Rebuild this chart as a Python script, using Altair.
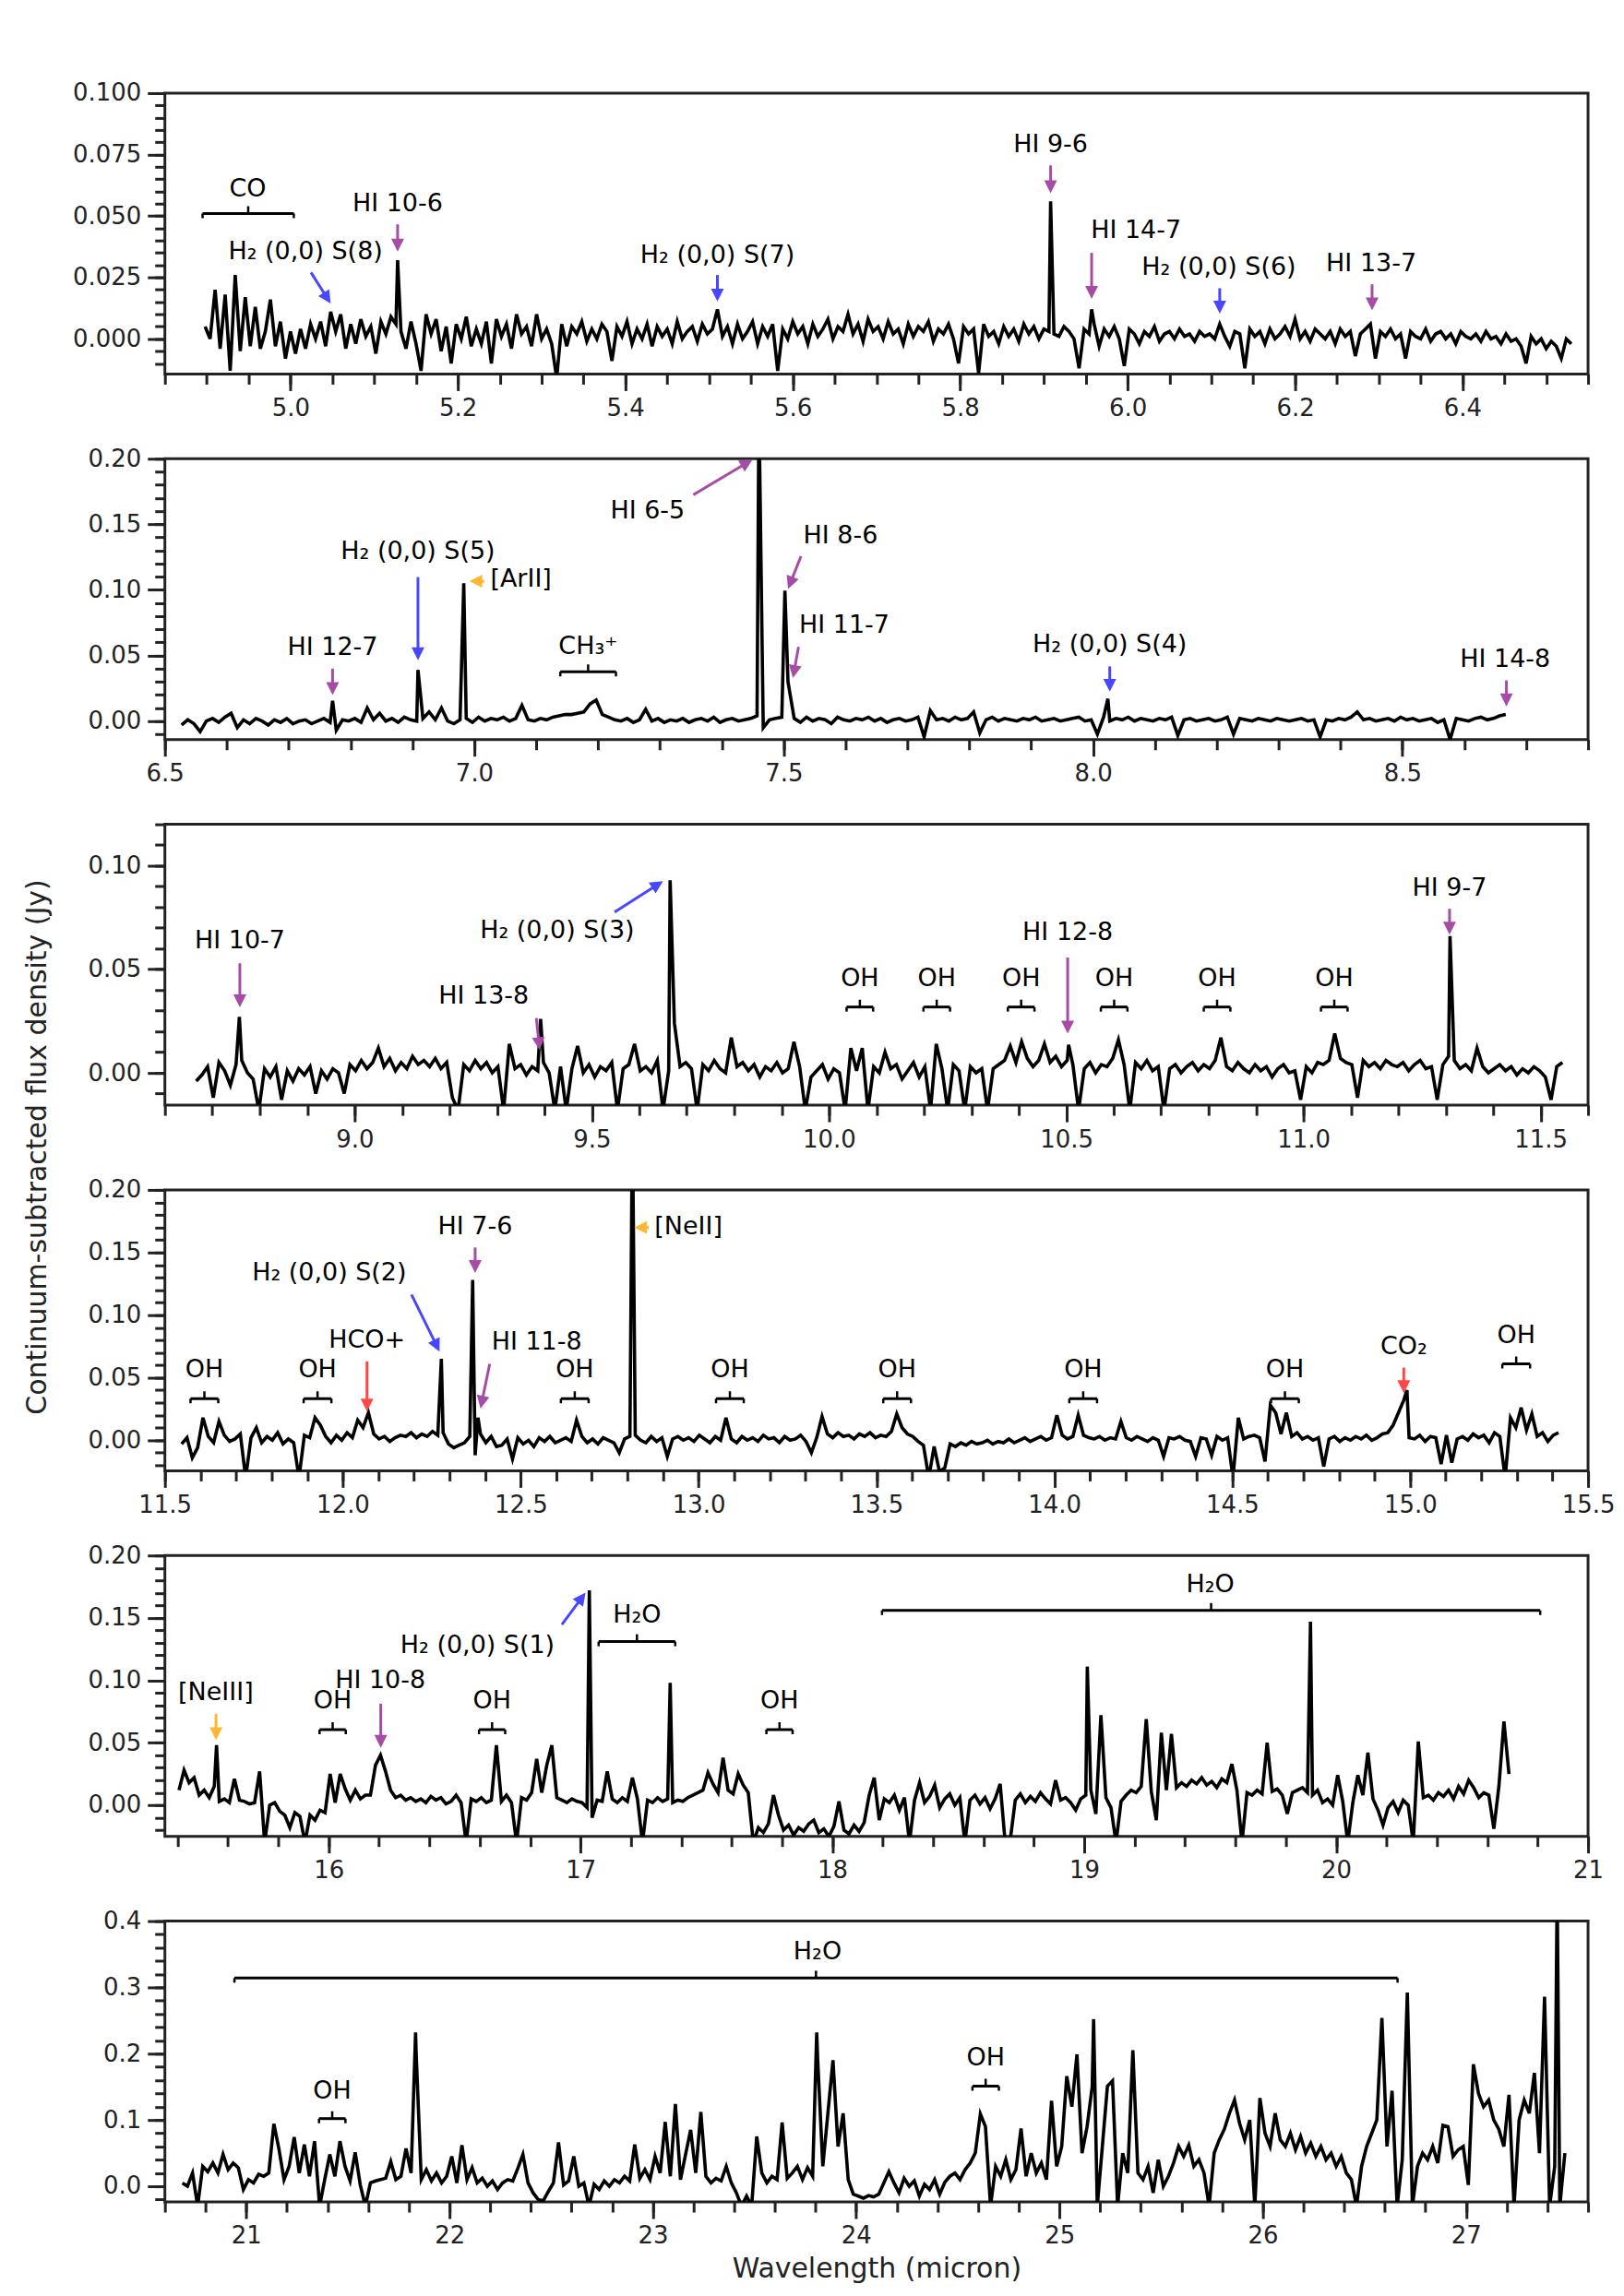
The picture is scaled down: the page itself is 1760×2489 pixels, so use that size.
import math
import pandas as pd
import altair as alt

FONT = "DejaVu Sans"
INK = "#222222"
W, H = 1545, 305
HEAD = 14
ARROW = "M0,0L-0.5,-1L0.5,-1Z"
PURPLE, BLUE, ORANGE, RED = "#a64ca6", "#4747ff", "#ffb733", "#ff4747"

# ---------------- spectra (flux in mJy on a regular wavelength grid) ----------------
P1_START, P1_STEP = 4.898, 0.006
P1_MJY = [
    5, 0, 20, -4, 18, -13, 26, -5, 17, -3, 13, -4, 3, 16, -3, 7, -8, 3, -6, 4,
    -4, 6, 0, 7, -3, 11, 3, 10, -4, 6, -2, 8, 1, 5, -6, 7, 2, 9, 6, 3,
    -4, 7, -2, -13, 10, 2, 8, -5, 5, -10, 6, 0, 9, -3, 4, -2, 7, -10, 8, 1,
    6, -4, 10, 2, 5, -3, 10, 0, 4, -2, -16, 6, -3, 5, 2, 7, -1, 4, 0, 6,
    3, -9, 5, 1, 7, -2, 4, 0, 6, -3, 5, 1, 4, -2, 7, 0, 3, 5, -1, 6,
    2, 4, 12, 1, 5, -2, 6, 0, 3, 7, -2, 5, 1, 6, -13, 4, 0, 7, 2, 5,
    -2, 6, 1, 4, 8, 0, 5, 3, 10, 2, 6, -1, 8, 3, 5, 0, 7, 2, 4, -2,
    6, 1, 5, 3, 7, -1, 4, 2, 6, 0, -10, 5, 2, 4, -14, 6, 1, 3, -2, 5,
    1, 4, -1, 6, 2, 5, 0, 4, 3, 2, 1, 5, 3, 0, -12, 4, 2, 6, -3, 4,
    1, 5, 0, -11, 4, 2, -2, 3, 1, 5, -1, 2, 3, 0, 4, 1, 2, -1, 3, 1,
    2, 0, 6, 1, -3, 3, 2, -12, 4, 1, 3, -2, 4, 0, 2, 5, 1, 8, 0, 3,
    -1, 4, 2, 0, 3, -2, 4, 1, 3, -7, 2, 4, 6, -8, 3, 1, 4, 0, 2, -8,
    3, 1, 0, 4, -1, 2, 3, 0, 2, -2, 3, 1, 0, 2, -1, 3, 0, 1, -2, 2,
    -1, 0, -3, -10, 1, -2, 0, -4, -1, -3, -8, 0, -2,
]
P1_LINES = [(5.128, 32), (5.908, 56), (5.957, 12)]

P2_START, P2_STEP = 6.527, 0.01
P2_MJY = [
    -3, 1, -2, -8, 0, 2, -1, 3, 6, -5, 1, -2, 2, 0, -3, 1, -1, 2, -2, 0,
    1, -2, 0, 2, -1, -7, 1, 0, 2, -1, 10, 1, 6, 0, 2, -1, 3, 1, 0, 2,
    7, 1, 10, 0, -2, 1, 2, -1, 3, 0, 2, 1, 3, 0, 2, 12, 1, 0, 2, 1,
    3, 4, 5, 5, 6, 7, 13, 16, 5, 3, 1, 0, 2, -1, 1, 9, 0, 2, -1, 1,
    0, 2, -1, 1, 2, 0, 3, -1, 1, 2, 0, 1, 2, 4, -5, 1, 2, 3, 30, 2,
    -1, 3, 0, 2, 1, -2, 3, 1, 0, 2, 1, 3, 0, 2, -1, 1, 2, 0, 1, 3,
    -12, 8, 1, 2, 0, 3, 1, 2, 7, -9, 1, 3, 0, 2, 1, 0, 2, 1, 3, 0,
    1, 2, 0, 1, 2, 3, 0, 1, -10, 3, 0, 2, 1, 3, 0, 2, 1, 0, 2, 1,
    3, -11, 1, 2, 0, 1, 2, 0, 1, 3, -10, 2, 1, 0, 2, 1, 0, 2, 1, 0,
    1, 2, 0, 1, -12, 1, 0, 2, 1, 3, 7, 1, 2, 0, 1, 2, 0, 3, 1, 2,
    0, 1, 2, -1, 1, -14, 2, 1, 0, 2, 3, 1, 2, 4, 5,
]
P2_LINES = [(6.771, 15.5), (6.909, 39), (6.983, 105), (7.460, 240), (7.502, 99.5), (8.024, 17)]

P3_START, P3_STEP = 8.666, 0.012
P3_MJY = [
    -4, -1, 3, -12, 5, 1, -6, 4, 6, 0, -3, -18, 2, -2, 3, -13, 1, -4, 2, -1,
    3, -10, 1, -3, 2, 0, -10, 4, 1, 6, 2, 5, 12, 3, 7, 1, 5, 2, 8, 4,
    6, 3, 7, 2, 5, -12, -18, 4, 1, 6, 2, 5, 0, 3, -18, 14, 2, 4, -1, 3,
    1, 5, 0, -18, 3, -18, 2, 13, 0, 4, -2, 3, 1, 5, -18, 2, 4, 14, 1, 3,
    0, 6, -18, 1, 24, 3, 5, 2, -18, 4, 1, 6, 2, 0, 17, 3, 5, 1, 4, -2,
    3, 1, 5, 0, 2, 15, 3, -18, -2, 1, 4, -3, 2, 0, -18, 12, 1, 12, -18, 3,
    0, 10, 2, 4, -3, 1, 5, -2, 3, -18, 14, 2, -18, 4, 1, -18, 3, 0, 2, -18,
    2, 4, 6, 13, 5, 15, 7, 3, 6, 14, 5, 8, 3, 6, 4, -18, 2, 5, 0, 4,
    3, 7, 16, 4, -18, 5, 2, 6, 1, 3, -18, 2, 4, 0, 3, 5, 1, 4, 2, 6,
    17, 3, 1, 5, 2, 0, 4, 1, 3, -2, 2, 4, 0, 1, -13, 3, 0, 5, 4, 6,
    19, 7, 5, 4, -12, 6, 3, 5, 2, 6, 4, 3, 5, 1, 4, 6, 2, 3, -13, 4,
    8, 6, 2, 4, 1, 12, 3, 0, 2, 4, 1, 3, -1, 2, 0, 3, 1, -2, -13, 3,
    5,
]
P3_LINES = [(8.757, 27), (9.392, 26), (9.665, 93), (10.505, 13.5), (11.309, 66)]

P4_START, P4_STEP = 11.547, 0.015
P4_MJY = [
    -3, 2, -14, -6, 18, 3, -2, 15, 4, -1, 1, 5, -30, 2, 10, -2, 3, 0, 6, -3,
    1, -2, -30, 4, 2, 18, 12, 3, -2, 4, 0, 6, 2, 16, 10, 22, 5, 1, 3, -1,
    2, 4, 3, 6, 2, 5, 3, 7, 4, 6, -3, -6, -4, -2, 3, -12, 5, -2, 3, -5,
    -4, 1, -15, 2, -3, 0, -5, 2, -1, 3, -2, 0, 2, -1, 16, 3, -2, 1, -3, 2,
    0, -2, -10, 1, 3, 4, 0, -2, 3, -1, 2, -13, 1, 3, 0, 2, -1, 4, 1, -2,
    3, 0, 18, 1, -2, 3, 0, 2, -1, 4, 1, 2, -2, 3, 0, 1, 4, -1, -10, 2,
    19, 5, 2, 6, 3, 4, 1, 5, 3, 6, 2, 4, 3, 7, 21, 10, 5, 3, -1, -4,
    -30, -5, -25, -22, -3, -5, -2, -4, -1, -3, -2, 0, -3, -1, -2, 1, -2, 0, 2, -1,
    1, 3, 0, 2, 20, 4, 1, 3, 20, 4, 2, 1, 3, 0, 2, 1, 15, 2, 0, 3,
    1, -1, 2, 0, -13, 2, 1, 3, 0, -1, -13, 2, 1, -12, 3, 0, 2, -30, 18, 1,
    3, 4, 2, -17, 28, 22, 5, 22, 3, 6, 1, 3, 0, 2, -21, 1, 3, -1, 2, 0,
    3, 1, 4, 0, 2, 5, 6, 12, 22, 32, 2, 1, 4, -1, 3, 2, -19, 4, -18, 1,
    3, 0, 5, 2, 4, -2, 6, 3, -30, 18, 10, 26, 8, 21, 3, 6, -1, 4, 6,
]
P4_LINES = [(12.277, 65), (12.365, 128), (12.380, 18), (12.814, 260), (14.991, 40)]

P5_START, P5_STEP = 15.406, 0.02
P5_MJY = [
    12, 28, 18, 22, 8, 12, 6, 15, 3, 5, 2, 21, 4, 3, 1, 2, 27, -30, 0, 2,
    -5, -8, -18, -6, -9, -30, -8, -12, -4, -6, 25, 2, 25, 13, 4, 12, 5, 8, 8, 32,
    40, 27, 12, 6, 8, 4, 6, 3, 5, 2, 7, 4, 6, 1, 3, 8, 2, -30, 5, 3,
    6, 2, 4, 48, 3, 8, 2, -30, 6, 4, 10, 37, 10, 32, 48, 6, 4, 2, 5, 3,
    2, -2, -10, 4, 3, 27, 5, 2, 6, 3, 22, 5, -30, 4, 2, 6, 3, 5, 2, 4,
    3, 6, 8, 10, 12, 26, 17, 10, 38, 12, 9, 25, 16, 10, -30, -18, -22, -15, 8, -8,
    -20, -16, -24, -18, -21, -15, -12, -22, -19, -25, -17, 3, -20, -23, -16, -21, -14, 8, 22, -12,
    5, 2, 8, -4, 6, -30, 4, 18, 2, 7, 16, -2, 5, 9, 0, 6, -30, 4, 8, 1,
    6, -3, 5, 17, -30, -28, 4, 9, 2, 7, 3, 10, 5, 1, 20, 4, 6, 2, -4, 5,
    8, 12, -7, 72, 6, -2, -30, 3, 8, 12, 10, 15, 69, 11, -12, 58, 12, 57, 14, 18,
    15, 20, 17, 22, 16, 19, 14, 21, 18, 33, 12, -30, 10, 8, 12, 9, 50, 11, 13, 8,
    -7, 10, 12, 14, 10, 8, 12, 2, 5, 0, 24, 3, -30, 2, 24, 8, 42, 5, -4, -16,
    -2, 3, -6, 4, 0, -30, 51, 6, 8, 4, 10, 7, 12, 5, 15, 9, 20, 14, 6, 10,
    8, -19, 15, 67, 25,
]
P5_LINES = [(15.555, 48), (17.035, 172), (17.356, 98), (19.012, 111), (19.898, 147)]

P6_START, P6_STEP = 20.686, 0.025
P6_MJY = [
    5, 0, 20, -30, 30, 22, 35, 20, 48, 25, 35, 28, -5, 10, 5, 18, 15, 20, 94, 56,
    10, 30, 74, 20, 63, 15, 68, -30, 10, 48, 15, 68, 30, 8, 51, 2, -30, 5, 8, 10,
    12, 37, 10, 15, 57, 20, 200, 10, 25, 8, 20, 5, 15, 45, 5, 62, 10, 28, 5, 12,
    0, 8, -5, 5, 10, 8, 27, 48, 5, -10, -20, -22, -8, 5, 66, 2, 8, 45, 0, 5,
    -30, 3, -5, 8, 0, 10, 5, 15, 8, 63, 12, 25, 10, 45, 20, 97, 15, 124, 10, 48,
    85, 20, 112, 15, 5, 12, 8, 30, 5, -10, -30, -15, -30, 75, 20, 5, 15, 10, 96, 12,
    20, 30, 10, 28, 15, 190, 30, 110, 190, 60, 110, 10, -12, -15, -18, -14, -16, -12, 5, 22,
    5, -10, 12, 0, 8, -15, 3, -5, 10, -12, 6, 15, 20, 10, 25, 35, 50, 109, 90, -30,
    30, 15, 40, 10, 25, 87, 15, 50, 20, 35, 10, 129, 30, 60, 166, 120, 199, 50, 90, 150,
    -30, 60, 151, 159, -30, 50, 20, 205, 20, 10, 30, -10, 40, 0, 15, 35, 60, 45, 62, 30,
    40, 20, -30, 50, 70, 86, 110, 130, 95, 70, 100, -30, 133, 80, 60, 110, 70, 60, 80, 55,
    75, 50, 65, 45, 60, 40, 50, 30, 45, 20, 10, -30, 30, 60, 80, 100, 254, 60, 144, -30,
    40, 292, -30, 30, 50, 40, 60, 35, 92, 90, 45, 55, 60, 2, 184, 140, 120, 130, 100, 86,
    60, 138, -30, 100, 130, 110, 171, 50, 286, -30, 30, -30, 50,
]
P6_LINES = [(21.833, 232), (23.806, 232), (25.168, 252), (27.448, 450)]

# ---------------- annotations (data coordinates) ----------------
P1_LABELS = [(4.949, 0.061, "CO"), (5.018, 0.0356, "H₂ (0,0) S(8)"), (5.128, 0.055, "HI 10-6"),
             (5.51, 0.034, "H₂ (0,0) S(7)"), (5.908, 0.079, "HI 9-6"), (6.010, 0.044, "HI 14-7"),
             (6.109, 0.029, "H₂ (0,0) S(6)"), (6.291, 0.0306, "HI 13-7")]
P1_LEFT = []
P1_ARROWS = [(5.0245, 0.027, 5.048, 0.0144, BLUE), (5.128, 0.0466, 5.128, 0.0355, PURPLE),
             (5.51, 0.026, 5.51, 0.0152, BLUE), (5.908, 0.0706, 5.908, 0.0593, PURPLE),
             (5.957, 0.035, 5.957, 0.0163, PURPLE), (6.110, 0.0206, 6.110, 0.0103, BLUE),
             (6.292, 0.0222, 6.292, 0.0116, PURPLE)]
P1_BRACKETS = [(4.895, 5.004, 0.051)]

P2_LABELS = [(6.771, 0.056, "HI 12-7"), (6.909, 0.129, "H₂ (0,0) S(5)"), (7.184, 0.0566, "CH₃⁺"),
             (7.280, 0.160, "HI 6-5"), (7.592, 0.141, "HI 8-6"), (7.598, 0.073, "HI 11-7"),
             (8.027, 0.058, "H₂ (0,0) S(4)"), (8.666, 0.047, "HI 14-8")]
P2_LEFT = [(7.026, 0.108, "[ArII]")]
P2_ARROWS = [(6.771, 0.040, 6.771, 0.0198, PURPLE), (6.909, 0.1097, 6.909, 0.0464, BLUE),
             (7.016, 0.1066, 6.992, 0.1066, ORANGE), (7.354, 0.1725, 7.4497, 0.1994, PURPLE),
             (7.528, 0.1257, 7.507, 0.1007, PURPLE), (7.524, 0.0566, 7.515, 0.0328, PURPLE),
             (8.027, 0.0417, 8.027, 0.0224, BLUE), (8.668, 0.031, 8.668, 0.0112, PURPLE)]
P2_BRACKETS = [(7.139, 7.229, 0.0376)]

P3_LABELS = [(8.758, 0.0637, "HI 10-7"), (9.272, 0.0368, "HI 13-8"), (9.427, 0.0684, "H₂ (0,0) S(3)"),
             (10.503, 0.0675, "HI 12-8"), (11.308, 0.0892, "HI 9-7"),
             (10.065, 0.0455, "OH"), (10.227, 0.0455, "OH"), (10.405, 0.0455, "OH"),
             (10.601, 0.0455, "OH"), (10.818, 0.0455, "OH"), (11.065, 0.0455, "OH")]
P3_LEFT = []
P3_ARROWS = [(8.758, 0.0529, 8.758, 0.0316, PURPLE), (9.383, 0.0265, 9.390, 0.011, PURPLE),
             (9.548, 0.0776, 9.650, 0.0926, BLUE), (10.503, 0.0557, 10.503, 0.019, PURPLE),
             (11.308, 0.0792, 11.308, 0.0667, PURPLE)]
P3_BRACKETS = [(10.037, 10.093, 0.0318), (10.199, 10.255, 0.0318), (10.377, 10.433, 0.0318),
               (10.573, 10.629, 0.0318), (10.790, 10.846, 0.0318), (11.037, 11.093, 0.0318)]

P4_LABELS = [(12.068, 0.080, "HCO+"), (11.962, 0.1336, "H₂ (0,0) S(2)"), (12.372, 0.1705, "HI 7-6"),
             (12.545, 0.078, "HI 11-8"), (14.982, 0.0745, "CO₂"),
             (11.611, 0.056, "OH"), (11.929, 0.056, "OH"), (12.652, 0.056, "OH"), (13.088, 0.056, "OH"),
             (13.558, 0.056, "OH"), (14.081, 0.056, "OH"), (14.648, 0.056, "OH"), (15.298, 0.0836, "OH")]
P4_LEFT = [(12.876, 0.1705, "[NeII]")]
P4_ARROWS = [(12.068, 0.063, 12.068, 0.0229, RED), (12.193, 0.1164, 12.272, 0.0708, BLUE),
             (12.372, 0.154, 12.372, 0.1336, PURPLE), (12.413, 0.061, 12.387, 0.0253, PURPLE),
             (12.860, 0.170, 12.819, 0.170, ORANGE), (14.982, 0.058, 14.982, 0.0376, RED)]
P4_BRACKETS = [(11.572, 11.650, 0.0332), (11.890, 11.968, 0.0332), (12.613, 12.691, 0.0332),
               (13.049, 13.127, 0.0332), (13.519, 13.597, 0.0332), (14.042, 14.120, 0.0332),
               (14.609, 14.687, 0.0332), (15.259, 15.337, 0.061)]

P5_LABELS = [(15.552, 0.0898, "[NeIII]"), (16.205, 0.0996, "HI 10-8"), (16.591, 0.1276, "H₂ (0,0) S(1)"),
             (17.224, 0.152, "H₂O"), (19.50, 0.1767, "H₂O"),
             (16.016, 0.0837, "OH"), (16.649, 0.0837, "OH"), (17.79, 0.0837, "OH")]
P5_LEFT = []
P5_ARROWS = [(15.553, 0.073, 15.553, 0.052, ORANGE), (16.207, 0.0813, 16.207, 0.0459, PURPLE),
             (16.926, 0.1447, 17.02, 0.1703, BLUE)]
P5_BRACKETS = [(15.964, 16.068, 0.0605), (16.597, 16.701, 0.0605), (17.738, 17.842, 0.0605),
               (17.072, 17.376, 0.131), (18.197, 20.81, 0.156)]

P6_LABELS = [(23.81, 0.353, "H₂O"), (21.423, 0.144, "OH"), (24.637, 0.193, "OH")]
P6_LEFT = []
P6_ARROWS = []
P6_BRACKETS = [(20.942, 26.663, 0.314), (21.358, 21.488, 0.102), (24.572, 24.702, 0.151)]


def ticks(a, b, s):
    n = int(round((b - a) / s))
    return [round(a + k * s, 4) for k in range(n + 1)]


PANELS = [
    dict(xdom=[4.85, 6.55], ydom=[-0.0143, 0.1], xmaj=ticks(5.0, 6.4, 0.2), xmin=ticks(4.85, 6.55, 0.05),
         xfmt=".1f", ymaj=ticks(0, 0.1, 0.025), ymin=ticks(-0.01, 0.1, 0.005), yfmt=".3f",
         start=P1_START, step=P1_STEP, mjy=P1_MJY, lines=P1_LINES,
         labels=P1_LABELS, left=P1_LEFT, arrows=P1_ARROWS, brackets=P1_BRACKETS),
    dict(xdom=[6.5, 8.8], ydom=[-0.0141, 0.2], xmaj=ticks(6.5, 8.5, 0.5), xmin=ticks(6.5, 8.8, 0.1),
         xfmt=".1f", ymaj=ticks(0, 0.2, 0.05), ymin=ticks(-0.01, 0.2, 0.01), yfmt=".2f",
         start=P2_START, step=P2_STEP, mjy=P2_MJY, lines=P2_LINES,
         labels=P2_LABELS, left=P2_LEFT, arrows=P2_ARROWS, brackets=P2_BRACKETS),
    dict(xdom=[8.6, 11.6], ydom=[-0.0156, 0.12], xmaj=ticks(9.0, 11.5, 0.5), xmin=ticks(8.6, 11.6, 0.1),
         xfmt=".1f", ymaj=ticks(0, 0.1, 0.05), ymin=ticks(-0.01, 0.12, 0.01), yfmt=".2f",
         start=P3_START, step=P3_STEP, mjy=P3_MJY, lines=P3_LINES,
         labels=P3_LABELS, left=P3_LEFT, arrows=P3_ARROWS, brackets=P3_BRACKETS, ytitle=True),
    dict(xdom=[11.5, 15.5], ydom=[-0.0244, 0.2], xmaj=ticks(11.5, 15.5, 0.5), xmin=ticks(11.5, 15.5, 0.1),
         xfmt=".1f", ymaj=ticks(0, 0.2, 0.05), ymin=ticks(-0.02, 0.2, 0.01), yfmt=".2f",
         start=P4_START, step=P4_STEP, mjy=P4_MJY, lines=P4_LINES,
         labels=P4_LABELS, left=P4_LEFT, arrows=P4_ARROWS, brackets=P4_BRACKETS),
    dict(xdom=[15.35, 21.0], ydom=[-0.025, 0.2], xmaj=ticks(16, 21, 1), xmin=ticks(15.4, 21.0, 0.2),
         xfmt="d", ymaj=ticks(0, 0.2, 0.05), ymin=ticks(-0.02, 0.2, 0.01), yfmt=".2f",
         start=P5_START, step=P5_STEP, mjy=P5_MJY, lines=P5_LINES,
         labels=P5_LABELS, left=P5_LEFT, arrows=P5_ARROWS, brackets=P5_BRACKETS),
    dict(xdom=[20.6, 27.6], ydom=[-0.0237, 0.4], xmaj=ticks(21, 27, 1), xmin=ticks(20.6, 27.6, 0.2),
         xfmt="d", ymaj=ticks(0, 0.4, 0.1), ymin=ticks(-0.02, 0.4, 0.02), yfmt=".1f",
         start=P6_START, step=P6_STEP, mjy=P6_MJY, lines=P6_LINES,
         labels=P6_LABELS, left=P6_LEFT, arrows=P6_ARROWS, brackets=P6_BRACKETS, xtitle=True),
]


def make_panel(p):
    xmin, xmax = p["xdom"]
    ymin, ymax = p["ydom"]
    ppx = W / (xmax - xmin)
    ppy = H / (ymax - ymin)
    xs = alt.Scale(domain=[xmin, xmax], nice=False, zero=False)
    ys = alt.Scale(domain=[ymin, ymax], nice=False, zero=False)

    lam = [round(p["start"] + i * p["step"], 5) for i in range(len(p["mjy"]))]
    pts = [(l, v / 1000.0) for l, v in zip(lam, p["mjy"])]
    pts += [(l, v / 1000.0) for l, v in p["lines"]]
    pts.sort(key=lambda t: t[0])
    spec = pd.DataFrame(pts, columns=["w", "f"])

    common = dict(domain=False, grid=False, tickColor=INK, tickWidth=3,
                  labelFlush=False, labelOverlap=False)
    x_minor = alt.Axis(orient="bottom", values=p["xmin"], labels=False, tickSize=11, title=None, **common)
    y_minor = alt.Axis(orient="left", values=p["ymin"], labels=False, tickSize=11, title=None, **common)

    xkw = dict(orient="bottom", values=p["xmaj"], format=p["xfmt"], tickSize=18, labelFontSize=26,
               labelFont=FONT, labelColor=INK, labelPadding=6)
    if p.get("xtitle"):
        xkw.update(title="Wavelength (micron)", titleFont=FONT, titleFontSize=30, titleFontWeight="normal",
                   titleColor=INK, titleY=73, titleBaseline="middle")
    else:
        xkw.update(title=None)
    ykw = dict(orient="left", values=p["ymaj"], format=p["yfmt"], tickSize=19, labelFontSize=26,
               labelFont=FONT, labelColor=INK, labelPadding=7)
    if p.get("ytitle"):
        ykw.update(title="Continuum-subtracted flux density (Jy)", titleFont=FONT, titleFontSize=30,
                   titleFontWeight="normal", titleColor=INK, titleX=-138, titleY=H + 45,
                   titleAngle=270, titleAlign="center", titleBaseline="middle")
    else:
        ykw.update(title=None)
    x_major = alt.Axis(**xkw, **common)
    y_major = alt.Axis(**ykw, **common)

    layers = [
        alt.Chart(spec).mark_line(opacity=0, clip=True).encode(
            x=alt.X("w:Q", scale=xs, axis=x_minor), y=alt.Y("f:Q", scale=ys, axis=y_minor)),
        alt.Chart(spec).mark_line(color="black", strokeWidth=3.6, clip=True).encode(
            x=alt.X("w:Q", scale=xs, axis=x_major), y=alt.Y("f:Q", scale=ys, axis=y_major)),
    ]

    segs, heads = [], []
    for (x0, y0, x1, y1, c) in p["arrows"]:
        dx = (x1 - x0) * ppx
        dy = -(y1 - y0) * ppy
        L = math.hypot(dx, dy)
        ux, uy = dx / L, dy / L
        back = min(HEAD * 0.7, L)
        xe = x1 - ux * back / ppx
        ye = y1 + uy * back / ppy
        segs.append(dict(x=x0, y=y0, x2=xe, y2=ye, col=c, sw=3))
        ang = math.degrees(math.atan2(-dx, dy)) % 360
        heads.append(dict(x=x1, y=y1, ang=ang, col=c))
    for (xa, xb, yb) in p["brackets"]:
        segs.append(dict(x=xa, y=yb, x2=xb, y2=yb, col="black", sw=3))
        for xx in (xa, xb):
            segs.append(dict(x=xx, y=yb, x2=xx, y2=yb - 5.0 / ppy, col="black", sw=2.5))
        xc = (xa + xb) / 2
        segs.append(dict(x=xc, y=yb, x2=xc, y2=yb + 8.0 / ppy, col="black", sw=2.5))

    if segs:
        layers.append(alt.Chart(pd.DataFrame(segs)).mark_rule(strokeCap="butt").encode(
            x=alt.X("x:Q", scale=xs, axis=None), y=alt.Y("y:Q", scale=ys, axis=None),
            x2="x2:Q", y2="y2:Q", color=alt.Color("col:N", scale=None),
            strokeWidth=alt.StrokeWidth("sw:Q", scale=None)))
    if heads:
        layers.append(alt.Chart(pd.DataFrame(heads)).mark_point(
            shape=ARROW, filled=True, size=(2 * HEAD) ** 2, opacity=1, strokeWidth=0).encode(
            x=alt.X("x:Q", scale=xs, axis=None), y=alt.Y("y:Q", scale=ys, axis=None),
            angle=alt.Angle("ang:Q", scale=None), color=alt.Color("col:N", scale=None)))
    if p["labels"]:
        df = pd.DataFrame(p["labels"], columns=["x", "y", "t"])
        layers.append(alt.Chart(df).mark_text(font=FONT, fontSize=27, color="black",
                                              align="center", baseline="middle").encode(
            x=alt.X("x:Q", scale=xs, axis=None), y=alt.Y("y:Q", scale=ys, axis=None), text="t:N"))
    if p["left"]:
        df = pd.DataFrame(p["left"], columns=["x", "y", "t"])
        layers.append(alt.Chart(df).mark_text(font=FONT, fontSize=27, color="black",
                                              align="left", baseline="middle").encode(
            x=alt.X("x:Q", scale=xs, axis=None), y=alt.Y("y:Q", scale=ys, axis=None), text="t:N"))

    return alt.layer(*layers).resolve_axis(x="independent", y="independent").properties(width=W, height=H)


panels = [make_panel(p) for p in PANELS]

chart = alt.vconcat(*panels, spacing=92, bounds="flush").properties(
    padding={"left": 16, "top": 76, "right": 0, "bottom": 0},
    background="white",
).configure_view(stroke=INK, strokeWidth=3)

chart.save("out.html", embed_options={"renderer": "svg", "actions": False})
